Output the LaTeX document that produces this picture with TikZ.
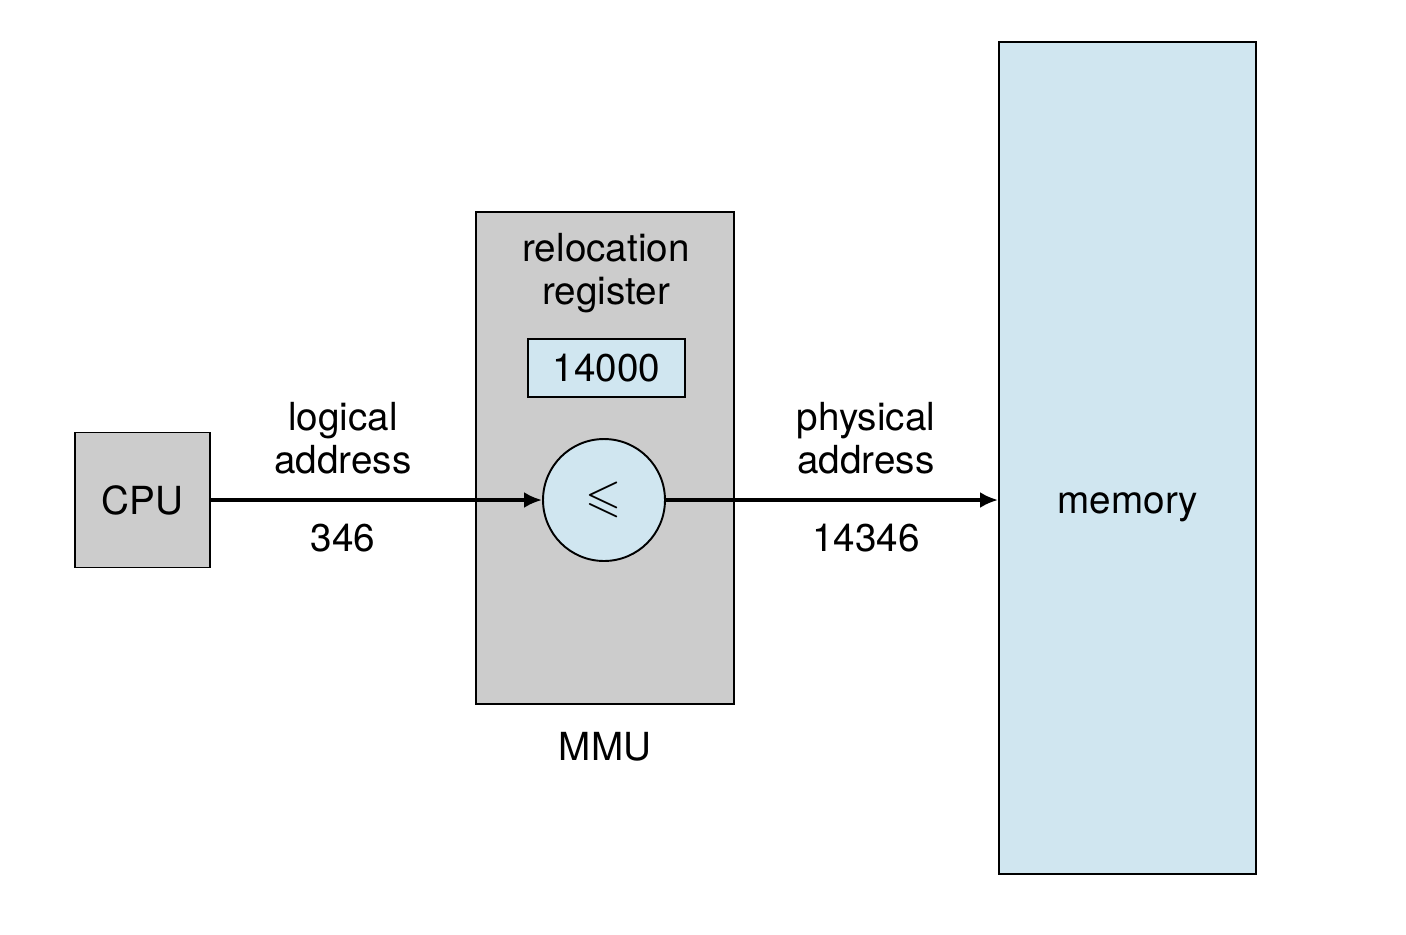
\documentclass[tikz,border=0pt]{standalone}
\usepackage{amssymb}
\usepackage{fontspec}
\setmainfont{TeX Gyre Heros}
\usetikzlibrary{positioning,arrows.meta}
\definecolor{boxgray}{HTML}{CCCCCC}
\definecolor{memblue}{HTML}{D0E6F0}

\begin{document}
\begin{tikzpicture}[x=0.02cm,y=-0.02cm,>={Latex[length=3.6mm,width=3.2mm]},
    font=\fontsize{22}{24.5}\selectfont,
    unit box/.style={draw,line width=1.1pt,inner sep=0pt},
    flow line/.style={->,line width=2pt},
    label text/.style={align=center,inner sep=0pt}]
    \useasboundingbox (0,0) rectangle (1406,934);
    % hardware blocks
    \node[unit box,fill=boxgray,minimum width=2.7cm,minimum height=2.7cm] (cpu) at (142.5,500) {CPU};
    \node[unit box,fill=boxgray,minimum width=5.16cm,minimum height=9.84cm] (mmu) at (605,458) {};
    \node[unit box,fill=memblue,minimum width=3.14cm,minimum height=1.16cm] (reg) at (606.5,368) {14000};
    \node[unit box,fill=memblue,circle,minimum size=2.44cm] (adder) at (604,500) {\scalebox{1.2}{$\leqslant$}};
    \node[unit box,fill=memblue,minimum width=5.14cm,minimum height=16.64cm] (mem) at (1127.5,458) {};
    % labels
    \node[label text] (memlabel) at (1128,507) {memory};
    \node[label text] (reglabel) at (606,273) {relocation\\register};
    \node[label text] (mmulabel) [below=0.55cm of mmu] {MMU};
    \node[label text] (logical) at (343,438) {logical\\address};
    \node[label text] (logval) at (343,538) {346};
    \node[label text] (physical) at (866,438) {physical\\address};
    \node[label text] (physval) at (866,538) {14346};
    % address path
    \draw[flow line] (cpu) -- (adder);
    \draw[flow line] (adder) -- (adder -| mem.west);
\end{tikzpicture}
\end{document}
